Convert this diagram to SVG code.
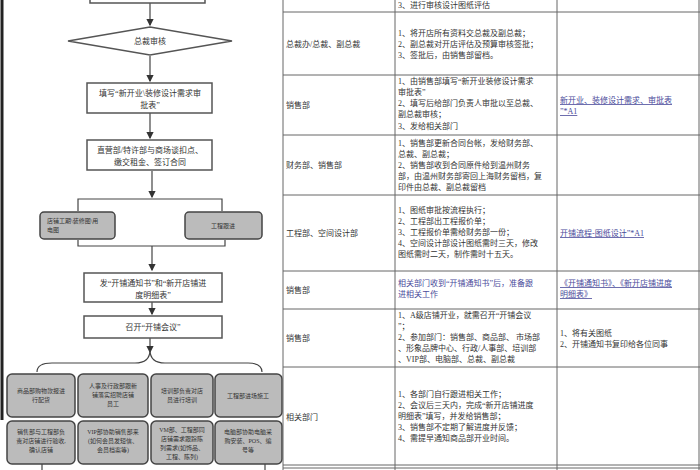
<svg xmlns="http://www.w3.org/2000/svg" width="700" height="470" viewBox="0 0 700 470">
<defs>
<style>
text{font-family:"Liberation Serif","Noto Sans CJK SC",serif;font-size:8px;fill:#333}
.bx{fill:#fff;stroke:#555;stroke-width:1.5}
.gb{fill:#bbb;stroke:#444;stroke-width:1.5}
.ln{stroke:#444;stroke-width:1.2;fill:none}
.tl{stroke:#666;stroke-width:1;fill:none}
.lk{fill:#4a4a9a}
.c{text-anchor:middle}
</style>
<marker id="a" markerWidth="6" markerHeight="6" refX="5" refY="3" orient="auto"><path d="M0,0L6,3L0,6z" fill="#333"/></marker>
</defs>
<rect width="700" height="470" fill="#fff"/>
<line x1="2" y1="0" x2="2" y2="420" stroke="#222" stroke-width="3"/>
<g id="connectors">
<line class="ln" x1="150" y1="3" x2="150" y2="25" marker-end="url(#a)"/>
<line class="ln" x1="150" y1="56" x2="150" y2="81" marker-end="url(#a)"/>
<line class="ln" x1="150" y1="113" x2="150" y2="138" marker-end="url(#a)"/>
<line class="ln" x1="152" y1="171" x2="152" y2="197" marker-end="url(#a)"/>
<polyline class="ln" points="78,211 78,199 222,199 222,211"/>
<polyline class="ln" points="78,240 78,246 225,246 225,240"/>
<line class="ln" x1="152" y1="246" x2="152" y2="270" marker-end="url(#a)"/>
<line class="ln" x1="152" y1="302" x2="152" y2="314" marker-end="url(#a)"/>
<line class="ln" x1="150" y1="338" x2="150" y2="352" marker-end="url(#a)"/>
<path class="ln" d="M37,372 Q37,363 52,363 L135,363 Q150,363 150,350 Q150,363 165,363 L248,363 Q262,363 262,372"/>
<line class="ln" x1="42" y1="464" x2="42" y2="470"/>
<line class="ln" x1="265" y1="464" x2="265" y2="470"/>
</g>
<g id="n0"><rect class="bx" x="90" y="-10" width="115" height="13"/></g>
<g id="n1"><polygon class="bx" points="68,41 150,27 232,41 150,55"/><text class="c" x="150" y="44">总裁审核</text></g>
<g id="n2"><rect class="bx" x="87" y="83" width="125" height="30"/><text class="c" x="150" y="96">填写“新开业\装修设计需求审</text><text class="c" x="150" y="108">批表”</text></g>
<g id="n3"><rect class="bx" x="87" y="140" width="125" height="30"/><text class="c" x="150" y="153">直营部/特许部与商场谈扣点、</text><text class="c" x="150" y="165">缴交租金、签订合同</text></g>
<g id="n4"><rect class="gb" x="40" y="212" width="75" height="27" rx="4"/><text x="47" y="223" style="font-size:6px">店铺工期\装修图\用</text><text x="47" y="232" style="font-size:6px">电图</text></g>
<g id="n5"><rect class="gb" x="185" y="212" width="77" height="27" rx="4"/><text class="c" x="223" y="228" style="font-size:6px">工程跟进</text></g>
<g id="n6"><rect class="bx" x="84" y="273" width="138" height="29"/><text class="c" x="153" y="286">发“开铺通知书”和“新开店铺进</text><text class="c" x="153" y="298">度明细表”</text></g>
<g id="n7"><rect class="bx" x="84" y="316" width="138" height="22"/><text class="c" x="153" y="330">召开“开铺会议”</text></g>
<g id="g1"><rect class="gb" x="7" y="374" width="68" height="43" rx="5"/><text class="c" x="41" y="393" style="font-size:6px">商品部购物款报进</text><text class="c" x="41" y="402" style="font-size:6px">行配货</text></g>
<g id="g2"><rect class="gb" x="78" y="374" width="70" height="43" rx="5"/><text class="c" x="113" y="388" style="font-size:6px">人事及行政部跟新</text><text class="c" x="113" y="397" style="font-size:6px">铺落实招聘店铺</text><text class="c" x="113" y="406" style="font-size:6px">员工</text></g>
<g id="g3"><rect class="gb" x="151" y="374" width="62" height="43" rx="5"/><text class="c" x="182" y="393" style="font-size:6px">培训部负责对店</text><text class="c" x="182" y="402" style="font-size:6px">员进行培训</text></g>
<g id="g4"><rect class="gb" x="215" y="374" width="67" height="43" rx="5"/><text class="c" x="248" y="398" style="font-size:6px">工程部进场施工</text></g>
<g id="g5"><rect class="gb" x="7" y="421" width="68" height="43" rx="5"/><text class="c" x="41" y="434" style="font-size:6px">销售部与工程部负</text><text class="c" x="41" y="443" style="font-size:6px">责对店铺进行验收,</text><text class="c" x="41" y="452" style="font-size:6px">确认店铺</text></g>
<g id="g6"><rect class="gb" x="78" y="421" width="70" height="43" rx="5"/><text class="c" x="113" y="434" style="font-size:6px">VIP部协助销售部来</text><text class="c" x="113" y="443" style="font-size:6px">(如何会员发短信、</text><text class="c" x="113" y="452" style="font-size:6px">会员档案等)</text></g>
<g id="g7"><rect class="gb" x="151" y="421" width="62" height="43" rx="5"/><text class="c" x="182" y="432" style="font-size:6px">VM部、工程部同</text><text class="c" x="182" y="441" style="font-size:6px">店铺需求跟踪陈</text><text class="c" x="182" y="450" style="font-size:6px">列需求(如饰品、</text><text class="c" x="182" y="459" style="font-size:6px">工程、陈列)</text></g>
<g id="g8"><rect class="gb" x="215" y="421" width="67" height="43" rx="5"/><text class="c" x="248" y="434" style="font-size:6px">电脑部协助电脑采</text><text class="c" x="248" y="443" style="font-size:6px">购安装、POS、编</text><text class="c" x="248" y="452" style="font-size:6px">号等</text></g>
<g id="table">
<line class="tl" x1="283" y1="0" x2="283" y2="470"/>
<line class="tl" x1="395" y1="0" x2="395" y2="470"/>
<line class="tl" x1="557" y1="0" x2="557" y2="470"/>
<line class="tl" x1="699" y1="0" x2="699" y2="470"/>
<line class="tl" x1="283" y1="12" x2="700" y2="12"/>
<line class="tl" x1="283" y1="75" x2="700" y2="75"/>
<line class="tl" x1="283" y1="135" x2="700" y2="135"/>
<line class="tl" x1="283" y1="195" x2="700" y2="195"/>
<line class="tl" x1="283" y1="271" x2="700" y2="271"/>
<line class="tl" x1="283" y1="309" x2="700" y2="309"/>
<line class="tl" x1="283" y1="367" x2="700" y2="367"/>
<line class="tl" x1="283" y1="465" x2="700" y2="465"/>
<line class="tl" x1="283" y1="468" x2="700" y2="468"/>
<text x="398" y="8">3、进行审核设计图纸评估</text>
<text x="286" y="47">总裁办/总裁、副总裁</text>
<text x="398" y="36">1、将开店所有资料交总裁及副总裁；</text>
<text x="398" y="47">2、副总裁对开店评估及预算审核签批；</text>
<text x="398" y="58">3、签批后，由销售部留档。</text>
<text x="286" y="108">销售部</text>
<text x="398" y="84">1、由销售部填写“新开业装修设计需求</text>
<text x="398" y="95">审批表”</text>
<text x="398" y="106">2、填写后给部门负责人审批以至总裁、</text>
<text x="398" y="117">副总裁审核；</text>
<text x="398" y="129">3、发给相关部门</text>
<text class="lk" x="560" y="103" text-decoration="underline">新开业、装修设计需求、审批表</text><text class="lk" x="560" y="114" text-decoration="underline">”*A1</text>
<text x="286" y="168">财务部、销售部</text>
<text x="398" y="146">1、销售部更新合同台帐，发给财务部、</text>
<text x="398" y="157">总裁、副总裁；</text>
<text x="398" y="168">2、销售部收到合同原件给到温州财务</text>
<text x="398" y="179">部，由温州财务部寄回上海财务留档，复</text>
<text x="398" y="190">印件由总裁、副总裁留档</text>
<text x="286" y="236">工程部、空间设计部</text>
<text x="398" y="213">1、图纸审批按流程执行；</text>
<text x="398" y="224">2、工程部出工程报价单；</text>
<text x="398" y="235">3、工程报价单需给财务部一份；</text>
<text x="398" y="246">4、空间设计部设计图纸需时三天，修改</text>
<text x="398" y="257">图纸需时二天，制作需时十五天。</text>
<text class="lk" x="560" y="236" text-decoration="underline">开铺流程-图纸设计”*A1</text>
<text x="286" y="293">销售部</text>
<text class="lk" x="398" y="286">相关部门收到“开铺通知书”后，准备跟</text>
<text class="lk" x="398" y="297">进相关工作</text>
<text class="lk" x="560" y="286" text-decoration="underline">《开铺通知书》、《新开店铺进度</text>
<text class="lk" x="560" y="297" text-decoration="underline">明细表》</text>
<text x="286" y="341">销售部</text>
<text x="398" y="318">1、A级店铺开业，就需召开“开铺会议</text>
<text x="398" y="329">”；</text>
<text x="398" y="340">2、参加部门：销售部、商品部、 市场部</text>
<text x="398" y="351">、形象品牌中心、行政/人事部、培训部</text>
<text x="398" y="362">、VIP部、电脑部、总裁、副总裁</text>
<text x="560" y="336">1、将有关图纸</text>
<text x="560" y="347">2、开铺通知书复印给各位同事</text>
<text x="286" y="420">相关部门</text>
<text x="398" y="397">1、各部门自行跟进相关工作；</text>
<text x="398" y="408">2、会议后三天内，完成“新开店铺进度</text>
<text x="398" y="419">明细表”填写，并发给销售部；</text>
<text x="398" y="430">3、销售部不定期了解进度并反馈；</text>
<text x="398" y="441">4、需提早通知商品部开业时间。</text>
</g>
</svg>
